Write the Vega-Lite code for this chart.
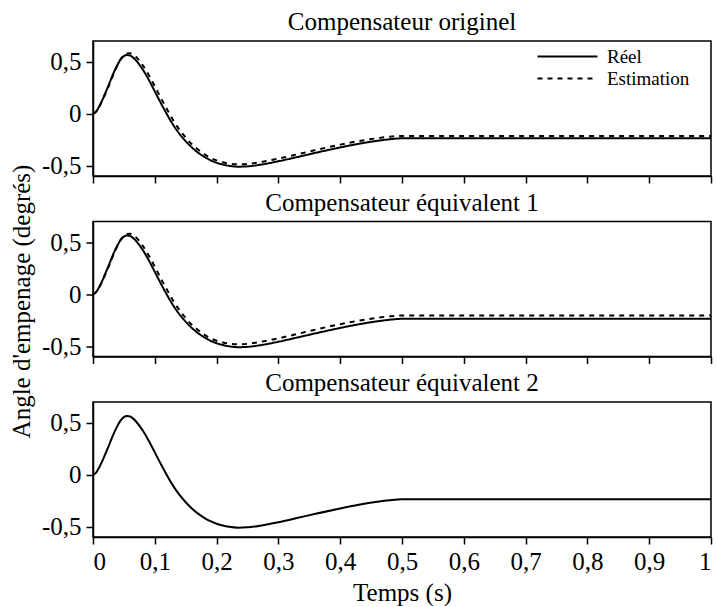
{
  "$schema": "https://vega.github.io/schema/vega-lite/v6.json",
  "padding": {"top": 9, "left": 8, "right": 0, "bottom": 0},
  "spacing": 45.5,
  "bounds": "flush",
  "config": {
    "locale": {"number": {"decimal": ",", "thousands": " ", "grouping": [3], "currency": ["", " €"], "minus": "-"}},
    "font": "Liberation Serif",
    "view": {"stroke": "black", "strokeWidth": 1.5},
    "axis": {"grid": false, "domainColor": "black", "tickColor": "black", "labelColor": "black", "titleColor": "black", "labelFont": "Liberation Serif", "titleFont": "Liberation Serif", "labelFontSize": 25, "titleFontSize": 25, "titleFontWeight": "normal", "tickSize": 7, "tickWidth": 1.5, "domainWidth": 1.5, "labelPadding": 5},
    "title": {"fontSize": 25, "fontWeight": "normal", "color": "black", "font": "Liberation Serif", "anchor": "middle", "offset": 6},
    "legend": {"labelFont": "Liberation Serif", "labelFontSize": 19, "labelColor": "black"}
  },
  "datasets": {
    "p1": [
      {"t": 0, "Réel": 0, "Estimation": 0},
      {"t": 0.005, "Réel": 0.02, "Estimation": 0.02},
      {"t": 0.01, "Réel": 0.07, "Estimation": 0.065},
      {"t": 0.015, "Réel": 0.13, "Estimation": 0.125},
      {"t": 0.02, "Réel": 0.2, "Estimation": 0.19},
      {"t": 0.025, "Réel": 0.27, "Estimation": 0.26},
      {"t": 0.03, "Réel": 0.345, "Estimation": 0.335},
      {"t": 0.035, "Réel": 0.415, "Estimation": 0.405},
      {"t": 0.04, "Réel": 0.475, "Estimation": 0.47},
      {"t": 0.045, "Réel": 0.525, "Estimation": 0.525},
      {"t": 0.05, "Réel": 0.555, "Estimation": 0.56},
      {"t": 0.055, "Réel": 0.565, "Estimation": 0.58},
      {"t": 0.06, "Réel": 0.56, "Estimation": 0.583},
      {"t": 0.065, "Réel": 0.54, "Estimation": 0.57},
      {"t": 0.07, "Réel": 0.51, "Estimation": 0.545},
      {"t": 0.08, "Réel": 0.43, "Estimation": 0.47},
      {"t": 0.09, "Réel": 0.33, "Estimation": 0.375},
      {"t": 0.1, "Réel": 0.215, "Estimation": 0.265},
      {"t": 0.11, "Réel": 0.1, "Estimation": 0.15},
      {"t": 0.12, "Réel": -0.01, "Estimation": 0.04},
      {"t": 0.13, "Réel": -0.11, "Estimation": -0.065},
      {"t": 0.14, "Réel": -0.195, "Estimation": -0.155},
      {"t": 0.15, "Réel": -0.265, "Estimation": -0.23},
      {"t": 0.16, "Réel": -0.325, "Estimation": -0.295},
      {"t": 0.17, "Réel": -0.375, "Estimation": -0.345},
      {"t": 0.18, "Réel": -0.415, "Estimation": -0.39},
      {"t": 0.19, "Réel": -0.448, "Estimation": -0.425},
      {"t": 0.2, "Réel": -0.472, "Estimation": -0.45},
      {"t": 0.21, "Réel": -0.49, "Estimation": -0.468},
      {"t": 0.22, "Réel": -0.502, "Estimation": -0.48},
      {"t": 0.235, "Réel": -0.51, "Estimation": -0.487},
      {"t": 0.25, "Réel": -0.507, "Estimation": -0.484},
      {"t": 0.27, "Réel": -0.492, "Estimation": -0.467},
      {"t": 0.3, "Réel": -0.458, "Estimation": -0.432},
      {"t": 0.33, "Réel": -0.418, "Estimation": -0.392},
      {"t": 0.36, "Réel": -0.377, "Estimation": -0.35},
      {"t": 0.4, "Réel": -0.325, "Estimation": -0.298},
      {"t": 0.43, "Réel": -0.29, "Estimation": -0.264},
      {"t": 0.46, "Réel": -0.261, "Estimation": -0.236},
      {"t": 0.48, "Réel": -0.246, "Estimation": -0.222},
      {"t": 0.5, "Réel": -0.237, "Estimation": -0.215},
      {"t": 1, "Réel": -0.237, "Estimation": -0.215}
    ],
    "p2": [
      {"t": 0, "Réel": 0, "Estimation": 0},
      {"t": 0.005, "Réel": 0.02, "Estimation": 0.02},
      {"t": 0.01, "Réel": 0.07, "Estimation": 0.065},
      {"t": 0.015, "Réel": 0.13, "Estimation": 0.125},
      {"t": 0.02, "Réel": 0.2, "Estimation": 0.19},
      {"t": 0.025, "Réel": 0.27, "Estimation": 0.26},
      {"t": 0.03, "Réel": 0.345, "Estimation": 0.335},
      {"t": 0.035, "Réel": 0.415, "Estimation": 0.405},
      {"t": 0.04, "Réel": 0.475, "Estimation": 0.47},
      {"t": 0.045, "Réel": 0.525, "Estimation": 0.525},
      {"t": 0.05, "Réel": 0.555, "Estimation": 0.56},
      {"t": 0.055, "Réel": 0.565, "Estimation": 0.58},
      {"t": 0.06, "Réel": 0.56, "Estimation": 0.583},
      {"t": 0.065, "Réel": 0.54, "Estimation": 0.57},
      {"t": 0.07, "Réel": 0.51, "Estimation": 0.545},
      {"t": 0.08, "Réel": 0.43, "Estimation": 0.47},
      {"t": 0.09, "Réel": 0.33, "Estimation": 0.375},
      {"t": 0.1, "Réel": 0.215, "Estimation": 0.265},
      {"t": 0.11, "Réel": 0.1, "Estimation": 0.15},
      {"t": 0.12, "Réel": -0.01, "Estimation": 0.04},
      {"t": 0.13, "Réel": -0.11, "Estimation": -0.065},
      {"t": 0.14, "Réel": -0.195, "Estimation": -0.155},
      {"t": 0.15, "Réel": -0.265, "Estimation": -0.23},
      {"t": 0.16, "Réel": -0.325, "Estimation": -0.295},
      {"t": 0.17, "Réel": -0.375, "Estimation": -0.345},
      {"t": 0.18, "Réel": -0.415, "Estimation": -0.39},
      {"t": 0.19, "Réel": -0.448, "Estimation": -0.424},
      {"t": 0.2, "Réel": -0.472, "Estimation": -0.448},
      {"t": 0.21, "Réel": -0.49, "Estimation": -0.465},
      {"t": 0.22, "Réel": -0.502, "Estimation": -0.476},
      {"t": 0.235, "Réel": -0.51, "Estimation": -0.482},
      {"t": 0.25, "Réel": -0.507, "Estimation": -0.478},
      {"t": 0.27, "Réel": -0.492, "Estimation": -0.46},
      {"t": 0.3, "Réel": -0.458, "Estimation": -0.425},
      {"t": 0.33, "Réel": -0.418, "Estimation": -0.384},
      {"t": 0.36, "Réel": -0.377, "Estimation": -0.341},
      {"t": 0.4, "Réel": -0.325, "Estimation": -0.289},
      {"t": 0.43, "Réel": -0.29, "Estimation": -0.255},
      {"t": 0.46, "Réel": -0.261, "Estimation": -0.227},
      {"t": 0.48, "Réel": -0.246, "Estimation": -0.213},
      {"t": 0.5, "Réel": -0.237, "Estimation": -0.205},
      {"t": 1, "Réel": -0.237, "Estimation": -0.205}
    ]
  },
  "vconcat": [
    {
      "width": 618, "height": 135,
      "title": {"text": "Compensateur originel"},
      "data": {"name": "p1"},
      "transform": [{"fold": ["Réel", "Estimation"], "as": ["serie", "v"]}],
      "mark": {"type": "line", "interpolate": "monotone", "color": "black", "strokeWidth": 2},
      "encoding": {
        "x": {"field": "t", "type": "quantitative", "scale": {"domain": [0, 1], "nice": false}, "axis": {"values": [0, 0.1, 0.2, 0.3, 0.4, 0.5, 0.6, 0.7, 0.8, 0.9, 1], "labels": false, "title": null}},
        "y": {"field": "v", "type": "quantitative", "scale": {"domain": [-0.6, 0.7], "nice": false}, "axis": {"values": [-0.5, 0, 0.5], "format": ".1~f", "title": "Angle d'empenage (degrés)", "titleY": 260, "titlePadding": 7}},
        "strokeDash": {"field": "serie", "type": "nominal", "scale": {"domain": ["Réel", "Estimation"], "range": [[1, 0], [5, 5]]},
          "legend": {"orient": "none", "legendX": 465, "legendY": 6, "title": null, "symbolType": "M-6,0H6", "symbolSize": 100, "symbolStrokeWidth": 2, "symbolStrokeColor": "black", "symbolFillColor": "transparent", "labelOffset": 30, "padding": 0, "rowPadding": 2}}
      }
    },
    {
      "width": 618, "height": 135,
      "title": {"text": "Compensateur équivalent 1"},
      "data": {"name": "p2"},
      "transform": [{"fold": ["Réel", "Estimation"], "as": ["serie", "v"]}],
      "mark": {"type": "line", "interpolate": "monotone", "color": "black", "strokeWidth": 2},
      "encoding": {
        "x": {"field": "t", "type": "quantitative", "scale": {"domain": [0, 1], "nice": false}, "axis": {"values": [0, 0.1, 0.2, 0.3, 0.4, 0.5, 0.6, 0.7, 0.8, 0.9, 1], "labels": false, "title": null}},
        "y": {"field": "v", "type": "quantitative", "scale": {"domain": [-0.6, 0.7], "nice": false}, "axis": {"values": [-0.5, 0, 0.5], "format": ".1~f", "title": null}},
        "strokeDash": {"field": "serie", "type": "nominal", "scale": {"domain": ["Réel", "Estimation"], "range": [[1, 0], [5, 5]]}, "legend": null}
      }
    },
    {
      "width": 618, "height": 135,
      "title": {"text": "Compensateur équivalent 2"},
      "data": {"name": "p1"},
      "mark": {"type": "line", "interpolate": "monotone", "color": "black", "strokeWidth": 2},
      "encoding": {
        "x": {"field": "t", "type": "quantitative", "scale": {"domain": [0, 1], "nice": false}, "axis": {"values": [0, 0.1, 0.2, 0.3, 0.4, 0.5, 0.6, 0.7, 0.8, 0.9, 1], "format": ".1~f", "title": "Temps (s)", "titlePadding": 6}},
        "y": {"field": "Réel", "type": "quantitative", "scale": {"domain": [-0.6, 0.7], "nice": false}, "axis": {"values": [-0.5, 0, 0.5], "format": ".1~f", "title": null}}
      }
    }
  ],
  "resolve": {"legend": {"strokeDash": "independent"}, "scale": {"strokeDash": "independent"}}
}
